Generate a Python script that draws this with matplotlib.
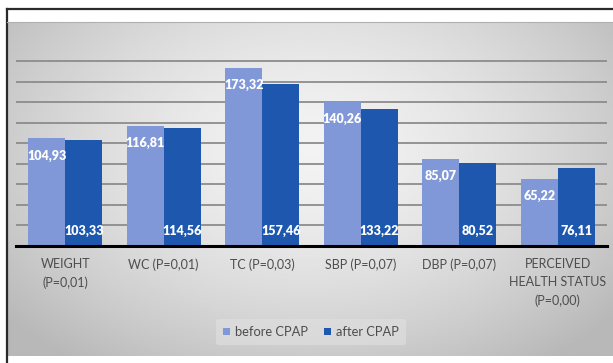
import numpy as np
import matplotlib.pyplot as plt
from matplotlib.lines import Line2D

categories = ["WEIGHT\n(P=0,01)", "WC (P=0,01)", "TC (P=0,03)", "SBP (P=0,07)",
              "DBP (P=0,07)", "PERCEIVED\nHEALTH STATUS\n(P=0,00)"]
before_cpap = [104.93, 116.81, 173.32, 140.26, 85.07, 65.22]
after_cpap = [103.33, 114.56, 157.46, 133.22, 80.52, 76.11]

light_blue = "#8098d8"
dark_blue = "#1d58ae"
label_grey = "#4d4d4d"

plt.rcParams["font.family"] = ["Lato", "DejaVu Sans"]

W, H = 613, 363
fig = plt.figure(figsize=(W / 100, H / 100), dpi=100)
fig.patch.set_facecolor("white")

# grey panel with a soft radial shading
bg = fig.add_axes([7 / W, 1 - 356 / H, (W - 7) / W, 334 / H])
yy, xx = np.mgrid[0:1:200j, 0:1:300j]
r = np.sqrt(((xx - 0.5) / 0.62) ** 2 + ((yy - 0.38) / 0.75) ** 2)
shade = np.clip(0.95 - 0.21 * r ** 1.6, 0.72, 0.95)
bg.imshow(shade, cmap="gray", vmin=0, vmax=1, aspect="auto",
          extent=[0, 1, 1, 0], interpolation="bilinear")
bg.set_axis_off()

# outer frame lines
fig.add_artist(Line2D([7 / W, 1], [1 - 8.5 / H, 1 - 8.5 / H], color="#2a2a2a", lw=1.6))
fig.add_artist(Line2D([7 / W, 7 / W], [0, 1 - 8.5 / H], color="#2a2a2a", lw=1.6))
fig.add_artist(Line2D([7 / W, 1], [1 - 22 / H, 1 - 22 / H], color="#b0b0b0", lw=0.8))

ax = fig.add_axes([16 / W, 1 - 246 / H, 591 / W, 205.5 / H])
ax.set_facecolor("none")

x = np.arange(len(categories))
w = 0.375
b1 = ax.bar(x - w / 2, before_cpap, w, color=light_blue, zorder=2, label="before CPAP")
b2 = ax.bar(x + w / 2, after_cpap, w, color=dark_blue, zorder=2, label="after CPAP")

for rect, v in zip(b1, before_cpap):
    ax.annotate(f"{v:.2f}".replace(".", ","), (rect.get_x() + rect.get_width() / 2, v),
                xytext=(0, -12.5), textcoords="offset points", ha="center", va="center",
                color="white", fontsize=9, fontweight="heavy", zorder=3)
for rect, v in zip(b2, after_cpap):
    ax.annotate(f"{v:.2f}".replace(".", ","), (rect.get_x() + rect.get_width() / 2, 0),
                xytext=(0, 11), textcoords="offset points", ha="center", va="center",
                color="white", fontsize=9, fontweight="heavy", zorder=3)

ax.set_ylim(0, 200)
ax.set_xlim(-0.5, len(categories) - 0.5)
ax.set_yticks(np.arange(20, 201, 20))
ax.yaxis.grid(True, color="#8c8c8c", lw=1.3, zorder=1)
ax.set_axisbelow(True)
ax.tick_params(axis="y", left=False, labelleft=False)
ax.set_xticks(x)
ax.set_xticklabels(categories, fontsize=9, color=label_grey, linespacing=1.6)
ax.tick_params(axis="x", length=0, pad=9)
for s in ["top", "right", "left"]:
    ax.spines[s].set_visible(False)
ax.spines["bottom"].set_color("black")
ax.spines["bottom"].set_linewidth(2.2)
ax.spines["bottom"].set_zorder(4)

leg = ax.legend(loc="center", bbox_to_anchor=(311 / W, 1 - 332 / H),
                bbox_transform=fig.transFigure, ncol=2, frameon=True,
                fontsize=9.3, handlelength=0.55, handleheight=0.55,
                handletextpad=0.4, columnspacing=1.2, borderpad=0.55)
leg.get_frame().set_facecolor("#dedede")
leg.get_frame().set_edgecolor("none")
leg.get_frame().set_alpha(0.7)
for t in leg.get_texts():
    t.set_color(label_grey)

fig.savefig("out.png", dpi=100)
